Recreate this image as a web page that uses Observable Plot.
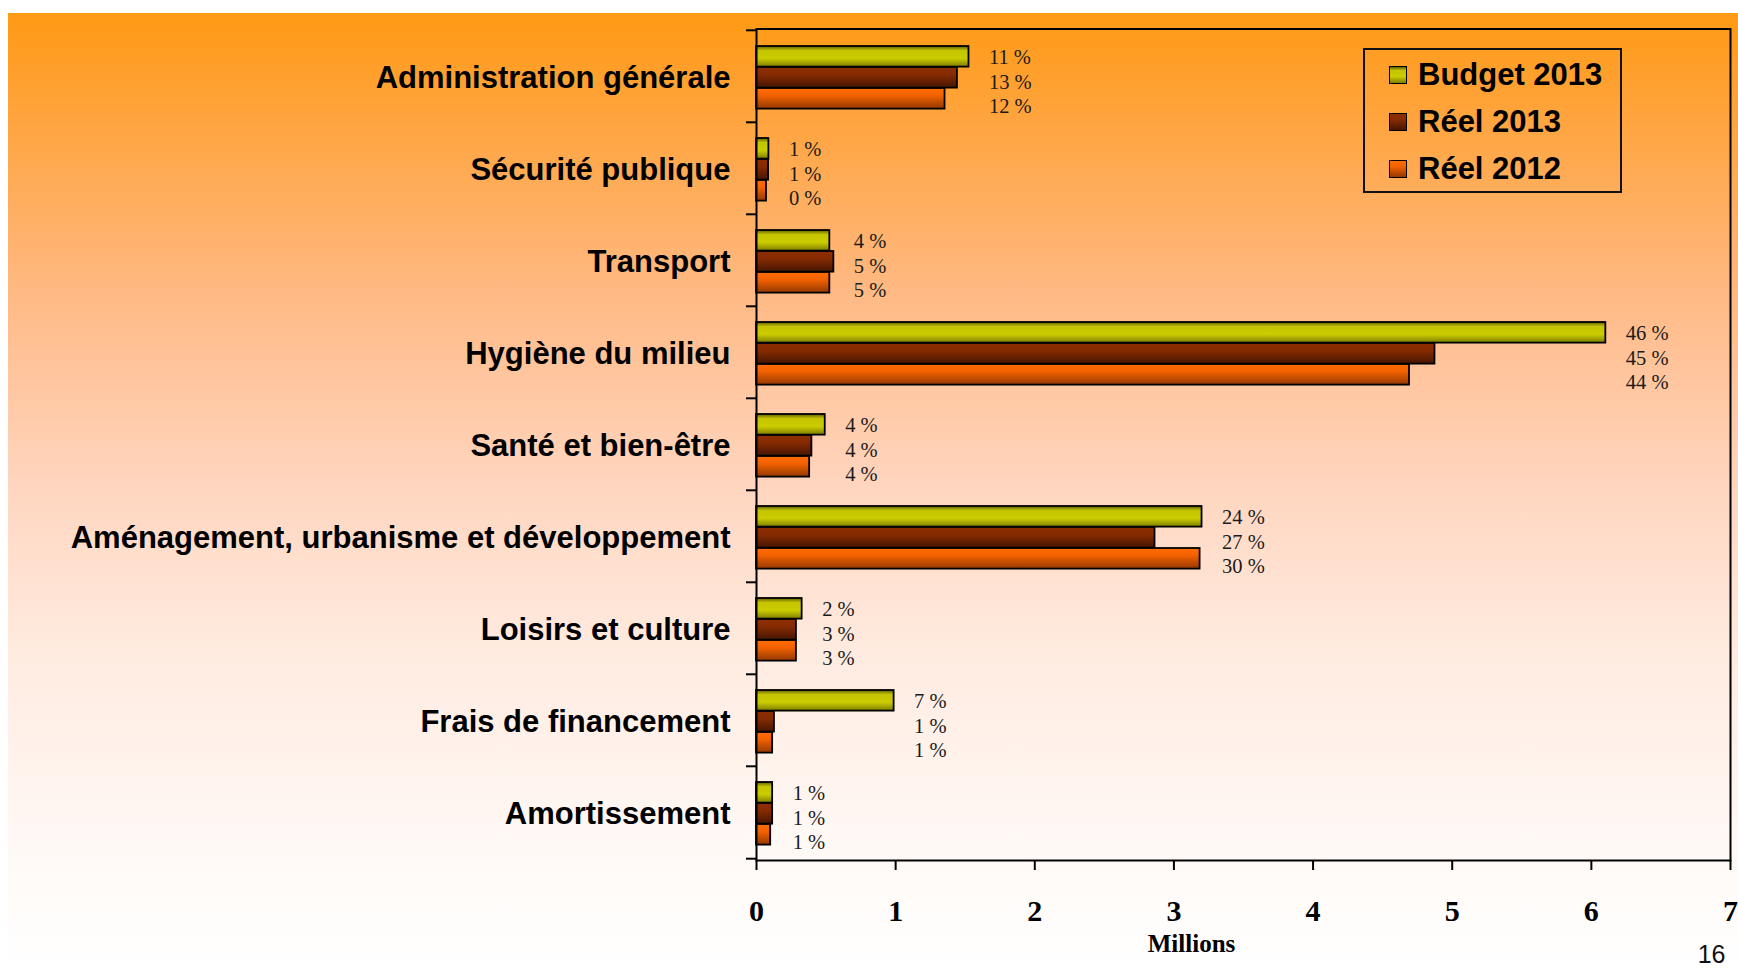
<!DOCTYPE html>
<html><head><meta charset="utf-8">
<script src="https://cdn.jsdelivr.net/npm/d3@7"></script>
<script src="https://cdn.jsdelivr.net/npm/@observablehq/plot@0.6"></script>
<style>
body{margin:0;background:#fff;width:1738px;height:968px;overflow:hidden;position:relative;}
#bg{position:absolute;left:8px;top:13px;width:1730px;height:955px;
 background:linear-gradient(to bottom,#ff9a14 0%,#ffa43e 11%,#ffba86 30%,#ffd5be 49%,#ffebe0 67%,#fffaf7 89%,#ffffff 100%);}
#chart{position:absolute;left:0;top:0;}
#legend{position:absolute;left:1363px;top:48px;width:255px;height:141px;border:2px solid #111;
 font-family:"Liberation Sans",Arial,sans-serif;font-weight:bold;font-size:31px;color:#000;}
.item{position:absolute;left:0;height:36px;display:flex;align-items:center;}
.sw{position:absolute;left:24px;width:16px;height:16px;border:1.5px solid #000;}
.lab{position:absolute;left:53px;white-space:nowrap;line-height:36px;}
</style></head>
<body><div id="bg"></div><div id="chart"></div><div id="legend"></div>
<script>
const categories = ["Administration générale","Sécurité publique","Transport","Hygiène du milieu","Santé et bien-être","Aménagement, urbanisme et développement","Loisirs et culture","Frais de financement","Amortissement"];
const seriesNames = ["Budget 2013","Réel 2013","Réel 2012"];
const budget2013 = [1.527,0.089,0.527,6.104,0.494,3.202,0.328,0.989,0.116];
const reel2013   = [1.444,0.087,0.556,4.876,0.398,2.864,0.287,0.129,0.116];
const reel2012   = [1.355,0.072,0.527,4.693,0.382,3.188,0.287,0.116,0.102];
const pctBudget2013 = [11,1,4,46,4,24,2,7,1];
const pctReel2013   = [13,1,5,45,4,27,3,1,1];
const pctReel2012   = [12,0,5,44,4,30,3,1,1];
const xTicks = [0,1,2,3,4,5,6,7];

const values = [budget2013, reel2013, reel2012];
const pcts = [pctBudget2013, pctReel2013, pctReel2012];
const gradIds = ["gBudget","gR13","gR12"];
const gradStops = [
  [[0,"#5e5e00"],[0.22,"#c4c400"],[0.6,"#cccc00"],[1,"#7d7d00"]],
  [[0,"#8e2e00"],[0.35,"#872b00"],[1,"#461500"]],
  [[0,"#ff6c00"],[0.35,"#f46200"],[1,"#953800"]]
];

const W = 1738, H = 968, mT = 28.5, mB = 108, mL = 756, mR = 8;
const step = (H - mT - mB) / categories.length;
const padTop = 16, barH = 21;
const labelDy = [-19, 5.5, 30];
const groupMax = categories.map((c, j) => Math.max(...values.map(v => v[j])));

const marks = [];
values.forEach((v, i) => {
  const top = padTop + i * barH;
  marks.push(Plot.barX(categories, {
    y: d => d, x: (d, j) => v[j],
    insetTop: top, insetBottom: step - top - barH,
    fill: `url(#${gradIds[i]})`, stroke: "#000", strokeWidth: 1.8
  }));
});
pcts.forEach((p, i) => {
  marks.push(Plot.text(categories, {
    y: d => d, x: (d, j) => groupMax[j], text: (d, j) => p[j] + " %",
    dx: 20, dy: labelDy[i], textAnchor: "start",
    fontSize: 20.5, fontFamily: "'Liberation Serif','Times New Roman',serif", fill: "#1a1a1a"
  }));
});

const plot = Plot.plot({
  width: W, height: H,
  marginTop: mT, marginBottom: mB, marginLeft: mL, marginRight: mR,
  style: {background: "transparent", color: "#000", overflow: "visible"},
  x: {domain: [0, 7]},
  y: {domain: categories, type: "band", padding: 0},
  marks: [
    ...marks,
    Plot.frame({stroke: "#000", strokeWidth: 2}),
    Plot.axisY({tickSize: 0, tickPadding: 26, fontSize: 31, fontWeight: "bold",
      fontFamily: "'Liberation Sans',Arial,sans-serif", dy: 1.5, label: null}),
    Plot.axisY({tickSize: 10, tickFormat: () => "", dy: -step / 2, strokeWidth: 2, label: null}),
    Plot.axisY([categories[categories.length - 1]], {tickSize: 10, tickFormat: () => "", dy: step / 2, strokeWidth: 2, label: null}),
    Plot.axisX({ticks: xTicks, tickFormat: d3.format("d"), tickSize: 10, tickPadding: 29, fontSize: 30, fontWeight: "bold",
      fontFamily: "'Liberation Serif','Times New Roman',serif", strokeWidth: 2, label: null}),
    Plot.text(["Millions"], {frameAnchor: "bottom", dx: -52, dy: 91, fontSize: 25, fontWeight: "bold",
      fontFamily: "'Liberation Serif','Times New Roman',serif", fill: "#000"}),
    Plot.text(["16"], {frameAnchor: "bottom-right", textAnchor: "end", dx: -5, dy: 102, fontSize: 25,
      fontFamily: "'Liberation Sans',Arial,sans-serif", fill: "#111"})
  ]
});

const svg = d3.select(plot);
const defs = svg.insert("defs", ":first-child");
gradIds.forEach((id, i) => {
  const g = defs.append("linearGradient").attr("id", id).attr("x1", 0).attr("y1", 0).attr("x2", 0).attr("y2", 1);
  gradStops[i].forEach(([o, c]) => g.append("stop").attr("offset", o).attr("stop-color", c));
});
document.getElementById("chart").appendChild(plot);

// legend
const legend = document.getElementById("legend");
const rowTops = [7, 54, 101];
seriesNames.forEach((name, i) => {
  const item = document.createElement("div");
  item.className = "item";
  item.style.top = rowTops[i] + "px";
  const sw = document.createElement("div");
  sw.className = "sw";
  sw.style.top = "9px";
  sw.style.background = `linear-gradient(to bottom, ${gradStops[i].map(([o, c]) => c + " " + (o * 100) + "%").join(",")})`;
  const lab = document.createElement("div");
  lab.className = "lab";
  lab.style.top = "0px";
  lab.textContent = name;
  item.appendChild(sw); item.appendChild(lab);
  legend.appendChild(item);
});
</script>
</body></html>
